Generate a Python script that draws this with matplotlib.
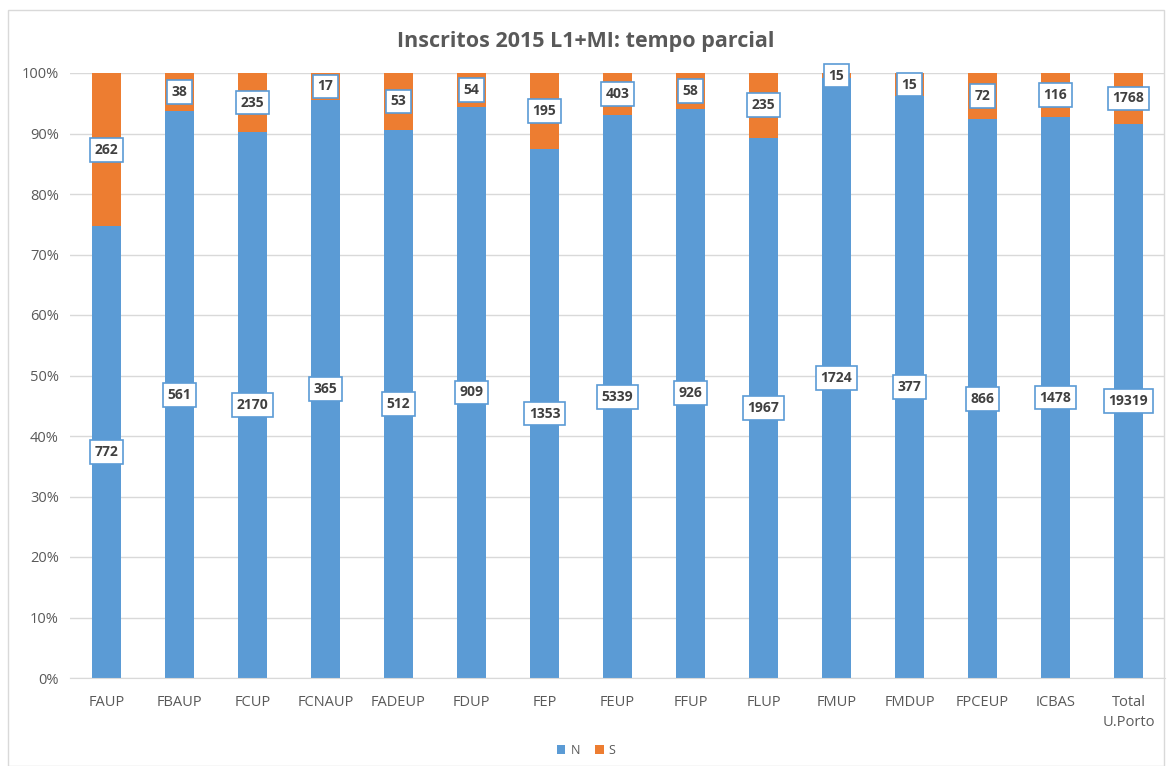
import matplotlib.pyplot as plt
from matplotlib.patches import Rectangle
from matplotlib.ticker import PercentFormatter

plt.rcParams['font.family'] = ['Open Sans', 'DejaVu Sans']

# 数据
categories = ["FAUP", "FBAUP", "FCUP", "FCNAUP", "FADEUP", "FDUP", "FEP", "FEUP",
              "FFUP", "FLUP", "FMUP", "FMDUP", "FPCEUP", "ICBAS", "Total\nU.Porto"]
n_values = [772, 561, 2170, 365, 512, 909, 1353, 5339, 926, 1967, 1724, 377, 866, 1478, 19319]
s_values = [262, 38, 235, 17, 53, 54, 195, 403, 58, 235, 15, 15, 72, 116, 1768]

blue = '#5B9BD5'
orange = '#ED7D31'
grey = '#595959'

fig = plt.figure(figsize=(11.72, 7.66), dpi=100)
fig.patches.append(Rectangle((8 / 1172, 0), 1 - 16 / 1172, 1 - 10 / 766, transform=fig.transFigure,
                             fill=False, edgecolor='#D9D9D9', linewidth=1))
ax = fig.add_axes([70 / 1172, 1 - 678 / 766, 1095 / 1172, 605 / 766])

x = list(range(len(categories)))
totals = [n + s for n, s in zip(n_values, s_values)]
n_pct = [n / t * 100 for n, t in zip(n_values, totals)]
s_pct = [s / t * 100 for s, t in zip(s_values, totals)]

ax.bar(x, n_pct, width=0.41, color=blue, label='N', zorder=2)
ax.bar(x, s_pct, width=0.41, bottom=n_pct, color=orange, label='S', zorder=2)

# 数据标签
box = dict(boxstyle='square,pad=0.35', facecolor='white', edgecolor=blue, linewidth=1.2)
for i in x:
    ax.text(i, n_pct[i] / 2, str(n_values[i]), ha='center', va='center', fontsize=10,
            fontweight='bold', color='#404040', bbox=box, zorder=3)
    ax.text(i, n_pct[i] + s_pct[i] / 2, str(s_values[i]), ha='center', va='center', fontsize=10,
            fontweight='bold', color='#404040', bbox=box, zorder=3)

ax.set_xlim(-0.5, len(categories) - 0.5)
ax.set_ylim(0, 100)
ax.set_yticks(range(0, 101, 10))
ax.yaxis.set_major_formatter(PercentFormatter(decimals=0))
ax.set_xticks(x)
ax.set_xticklabels(categories, linespacing=1.5)
ax.tick_params(axis='both', length=0, colors=grey, labelsize=10.5)
ax.tick_params(axis='x', pad=12)
ax.tick_params(axis='y', pad=8)
ax.grid(axis='y', color='#D9D9D9', linewidth=1, zorder=0)
for side in ['top', 'right', 'left']:
    ax.spines[side].set_visible(False)
ax.spines['bottom'].set_color('#D9D9D9')

fig.text(0.5, 1 - 41 / 766, "Inscritos 2015 L1+MI: tempo parcial", ha='center', va='center',
         fontsize=15.5, fontweight='bold', color=grey)

fig.legend(loc='center', bbox_to_anchor=(0.5, 1 - 750 / 766), ncol=2, frameon=False,
           fontsize=9, handlelength=0.7, handleheight=0.7, columnspacing=1.2, handletextpad=0.4,
           labelcolor=grey)

fig.savefig('out.png', dpi=100)
